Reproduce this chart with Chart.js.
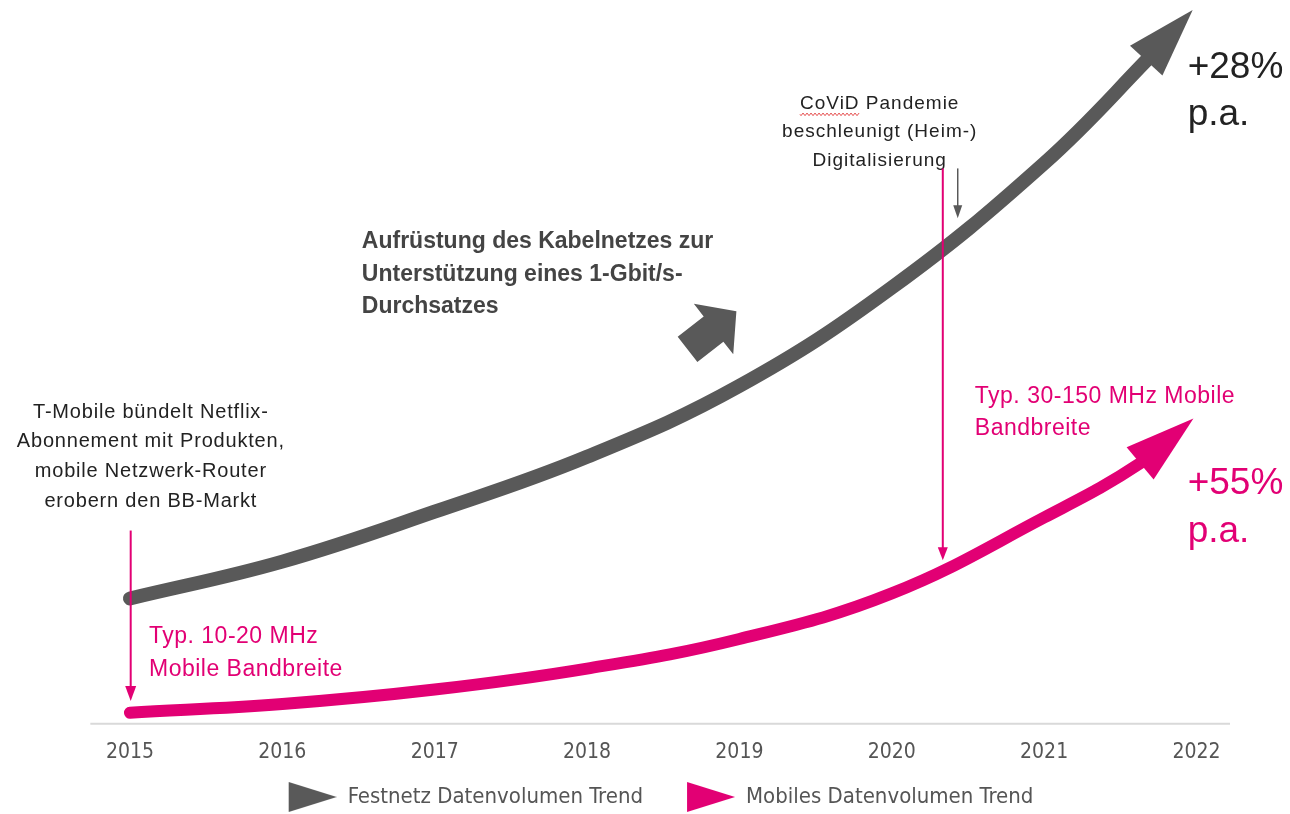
<!doctype html>
<html lang="de">
<head>
<meta charset="UTF-8">
<title>Datenvolumen Trend</title>
<script src="https://cdn.jsdelivr.net/npm/chart.js"></script>
<style>
  html, body { margin: 0; padding: 0; background: #fff; }
  #wrap { width: 1290px; height: 814px; position: relative; }
</style>
</head>
<body>
<div id="wrap"><canvas id="trendChart"></canvas></div>
<script>
// Jahre auf der x-Achse
const years = [2015, 2016, 2017, 2018, 2019, 2020, 2021, 2022];
// Stützpunkte der Trendkurven (letzter Punkt = Pfeilspitze)
const festnetzX = [2015, 2016, 2017, 2018, 2019, 2020, 2021, 2021.67, 2021.975];
const festnetzY = [17.2, 22.3, 29.2, 36.8, 46.6, 60.2, 77.4, 91.6, 98.6];
const mobilX = [2015, 2016, 2017, 2018, 2019, 2020, 2021, 2021.63, 2021.98];
const mobilY = [1.4, 2.6, 4.6, 7.5, 11.6, 17.9, 28.4, 35.9, 42.1];
const seriesNames = ['Festnetz Datenvolumen Trend', 'Mobiles Datenvolumen Trend'];

const GRAY = '#595959';
const MAGENTA = '#e20074';
const TEXT = '#222222';
const NARROW = '"Liberation Sans Narrow", "Arial Narrow", "DejaVu Sans Condensed", sans-serif';
const SANS = '"Liberation Sans", Arial, sans-serif';

function pts(xs, ys) {
  return xs.map((x, i) => ({ x: x, y: ys[i] }));
}

// Legenden-Symbol: Dreieck nach rechts (links etwas Luft als Abstand)
function legendIcon(color) {
  const c = document.createElement('canvas');
  c.width = 80; c.height = 30;
  const g = c.getContext('2d');
  g.fillStyle = color;
  g.beginPath();
  g.moveTo(32, 0);
  g.lineTo(80, 15);
  g.lineTo(32, 30);
  g.closePath();
  g.fill();
  return c;
}

const lastSeg = (n) => (c) => c.p1DataIndex === n - 1 ? 'rgba(0,0,0,0)' : undefined;

function drawLines(ctx, lines, x, y, lh, font, color, align, spacing) {
  ctx.save();
  ctx.font = font;
  ctx.fillStyle = color;
  ctx.textAlign = align;
  ctx.textBaseline = 'middle';
  if (spacing) ctx.letterSpacing = spacing + 'px';
  lines.forEach((t, i) => ctx.fillText(t, x, y + i * lh));
  ctx.restore();
}

function thinArrow(ctx, x, y1, y2, color, w, headW, headL) {
  ctx.save();
  ctx.strokeStyle = color;
  ctx.fillStyle = color;
  ctx.lineWidth = w;
  ctx.beginPath();
  ctx.moveTo(x, y1);
  ctx.lineTo(x, y2 - headL + 1);
  ctx.stroke();
  ctx.beginPath();
  ctx.moveTo(x - headW / 2, y2 - headL);
  ctx.lineTo(x + headW / 2, y2 - headL);
  ctx.lineTo(x, y2);
  ctx.closePath();
  ctx.fill();
  ctx.restore();
}

const annoPlugin = {
  id: 'annos',
  beforeDatasetsDraw(chart) {
    // Achsenlinie
    const ctx = chart.ctx, sx = chart.scales.x;
    const y = chart.chartArea.bottom + 1;
    ctx.save();
    ctx.strokeStyle = '#d9d9d9';
    ctx.lineWidth = 2;
    ctx.beginPath();
    ctx.moveTo(sx.getPixelForValue(2014.74), y);
    ctx.lineTo(sx.getPixelForValue(2022.22), y);
    ctx.stroke();
    ctx.restore();
  },
  afterDatasetsDraw(chart) {
    const ctx = chart.ctx;
    chart.data.datasets.forEach((ds, i) => {
      const p = chart.getDatasetMeta(i).data;
      const tip = p[p.length - 1], base = p[p.length - 2];
      const a = Math.atan2(tip.y - base.y, tip.x - base.x);
      const hw = ds.headWidth / 2;
      ctx.save();
      ctx.fillStyle = ds.borderColor;
      ctx.beginPath();
      ctx.moveTo(tip.x, tip.y);
      ctx.lineTo(base.x + Math.sin(a) * hw, base.y - Math.cos(a) * hw);
      ctx.lineTo(base.x - Math.sin(a) * hw, base.y + Math.cos(a) * hw);
      ctx.closePath();
      ctx.fill();
      ctx.restore();
    });
  },
  afterDraw(chart) {
    const ctx = chart.ctx;
    const sx = chart.scales.x, sy = chart.scales.y;
    const X = v => sx.getPixelForValue(v);
    const Y = v => sy.getPixelForValue(v);

    // T-Mobile Text + Pfeil
    drawLines(ctx, ['T-Mobile bündelt Netflix-', 'Abonnement mit Produkten,', 'mobile Netzwerk-Router', 'erobern den BB-Markt'],
      X(2015.137), Y(43.0), 29.7, '20px ' + SANS, TEXT, 'center', 0.8);
    thinArrow(ctx, X(2015.005), Y(26.6), Y(3.0), MAGENTA, 2, 11, 15);
    drawLines(ctx, ['Typ. 10-20 MHz', 'Mobile Bandbreite'], X(2015.125), Y(11.9), 33, '23px ' + SANS, MAGENTA, 'left', 0.5);

    // Kabelnetz Text + Blockpfeil
    drawLines(ctx, ['Aufrüstung des Kabelnetzes zur', 'Unterstützung eines 1-Gbit/s-', 'Durchsatzes'],
      X(2016.522), Y(66.5), 32.5, 'bold 23px ' + SANS, '#444444', 'left');
    ctx.save();
    ctx.translate(X(2018.82), Y(54.3));
    ctx.rotate(-38 * Math.PI / 180);
    ctx.fillStyle = GRAY;
    ctx.beginPath();
    ctx.moveTo(-31, -16);
    ctx.lineTo(2, -16);
    ctx.lineTo(2, -32);
    ctx.lineTo(31, 0);
    ctx.lineTo(2, 32);
    ctx.lineTo(2, 16);
    ctx.lineTo(-31, 16);
    ctx.closePath();
    ctx.fill();
    ctx.restore();

    // CoViD Text
    const covidLines = ['CoViD Pandemie', 'beschleunigt (Heim-)', 'Digitalisierung'];
    const cx = X(2019.921), cy = Y(85.7);
    drawLines(ctx, covidLines, cx, cy, 28.5, '19px ' + SANS, TEXT, 'center', 1);
    ctx.save();
    ctx.font = '19px ' + SANS;
    ctx.letterSpacing = '1px';
    const w0 = ctx.measureText(covidLines[0]).width;
    const wc = ctx.measureText('CoViD').width;
    const x0 = cx - w0 / 2, uy = cy + 11;
    ctx.strokeStyle = '#e03030';
    ctx.lineWidth = 1;
    ctx.beginPath();
    for (let x = 0; x <= wc; x += 1) {
      const yy = uy + Math.sin(x * Math.PI / 2) * 1.2;
      if (x === 0) ctx.moveTo(x0 + x, yy); else ctx.lineTo(x0 + x, yy);
    }
    ctx.stroke();
    ctx.restore();
    thinArrow(ctx, X(2020.433), Y(76.7), Y(69.8), GRAY, 1.5, 9, 13);
    thinArrow(ctx, X(2020.335), Y(76.7), Y(22.5), MAGENTA, 2, 10, 13);

    drawLines(ctx, ['Typ. 30-150 MHz Mobile', 'Bandbreite'], X(2020.545), Y(45.15), 32, '23px ' + SANS, MAGENTA, 'left', 0.5);

    // Wachstumsraten
    drawLines(ctx, ['+28%', 'p.a.'], X(2021.942), Y(90.6), 47, '37px ' + SANS, TEXT, 'left');
    drawLines(ctx, ['+55%', 'p.a.'], X(2021.942), Y(33.0), 48, '37px ' + SANS, MAGENTA, 'left');
  }
};

const icons = [legendIcon(GRAY), legendIcon(MAGENTA)];

new Chart(document.getElementById('trendChart'), {
  type: 'line',
  data: {
    datasets: [
      {
        label: seriesNames[0],
        data: pts(festnetzX, festnetzY),
        borderColor: GRAY,
        borderWidth: 14,
        borderCapStyle: 'round',
        headWidth: 44,
        tension: 0.4,
        pointRadius: 0,
        clip: false,
        segment: { borderColor: lastSeg(festnetzX.length) }
      },
      {
        label: seriesNames[1],
        data: pts(mobilX, mobilY),
        borderColor: MAGENTA,
        borderWidth: 12,
        borderCapStyle: 'round',
        headWidth: 42,
        tension: 0.4,
        pointRadius: 0,
        clip: false,
        segment: { borderColor: lastSeg(mobilX.length) }
      }
    ]
  },
  options: {
    responsive: true,
    maintainAspectRatio: false,
    animation: false,
    layout: { padding: { left: 60, right: 60, top: 0, bottom: -4 } },
    scales: {
      x: {
        type: 'linear',
        min: 2014.541,
        max: 2022.22,
        afterBuildTicks: s => { s.ticks = years.map(v => ({ value: v })); },
        afterFit: s => { s.height -= 8; },
        grid: { display: false, drawTicks: false },
        border: { display: false },
        ticks: {
          callback: v => String(v),
          font: { family: NARROW, size: 21 },
          color: '#555555',
          padding: 17,
          maxRotation: 0,
          autoSkip: false
        }
      },
      y: { display: false, min: 0, max: 100 }
    },
    plugins: {
      tooltip: { enabled: false },
      legend: {
        position: 'bottom',
        labels: {
          usePointStyle: true,
          pointStyleWidth: 80,
          font: { family: NARROW, size: 22 },
          color: '#555555',
          padding: 12,
          generateLabels: chart => chart.data.datasets.map((ds, i) => ({
            text: ds.label,
            pointStyle: icons[i],
            fillStyle: ds.borderColor,
            strokeStyle: ds.borderColor,
            lineWidth: 0,
            hidden: false,
            datasetIndex: i,
            fontColor: '#555555'
          }))
        }
      }
    }
  },
  plugins: [annoPlugin]
});
</script>
</body>
</html>
